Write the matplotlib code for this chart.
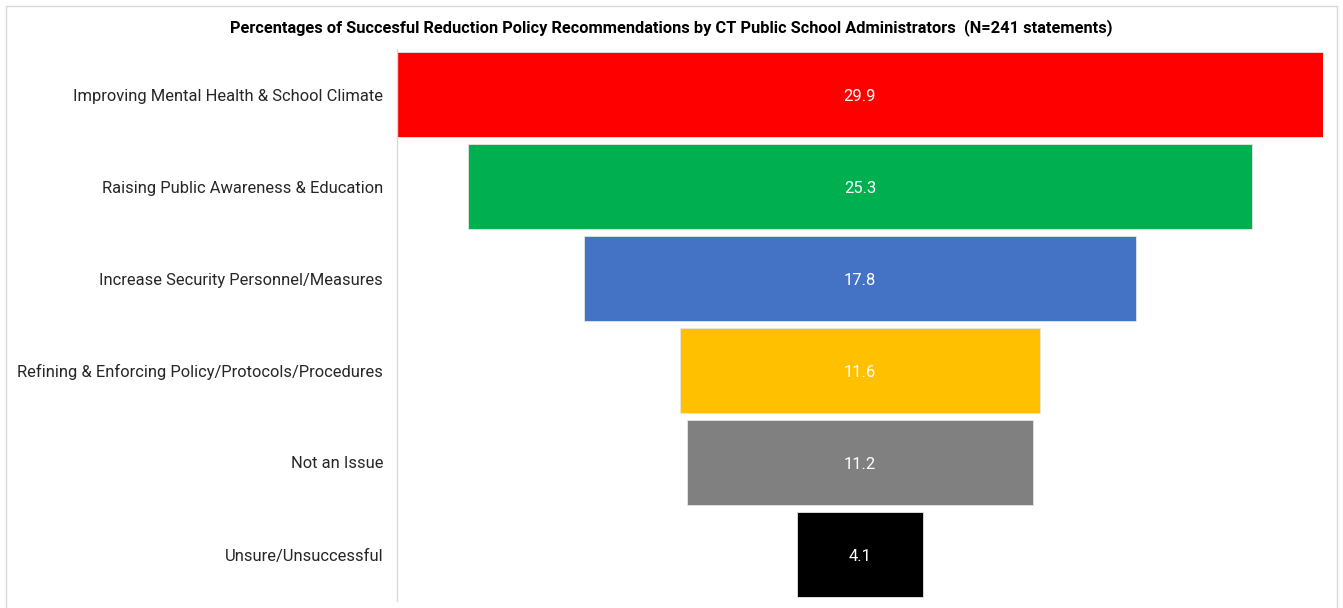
import matplotlib
matplotlib.use("Agg")
import matplotlib.pyplot as plt
from matplotlib.patches import Rectangle

categories = [
    "Improving Mental Health & School Climate",
    "Raising Public Awareness & Education",
    "Increase Security Personnel/Measures",
    "Refining & Enforcing Policy/Protocols/Procedures",
    "Not an Issue",
    "Unsure/Unsuccessful",
]
values = [29.9, 25.3, 17.8, 11.6, 11.2, 4.1]
colors = ["#FF0000", "#00B050", "#4472C4", "#FFC000", "#808080", "#000000"]
title = ("Percentages of Succesful Reduction Policy Recommendations by CT Public "
         "School Administrators  (N=241 statements)")

plt.rcParams["font.family"] = ["Roboto", "DejaVu Sans"]

W, H = 1343, 608
fig = plt.figure(figsize=(W / 100, H / 100), dpi=100)
fig.patch.set_facecolor("white")

# chart border
fig.patches.append(Rectangle((6 / W, -0.01), (1337 - 6) / W, (H - 6) / H + 0.01,
                             transform=fig.transFigure, fill=False,
                             edgecolor="#D9D9D9", linewidth=1.0))

ax = fig.add_axes([397 / W, (H - 600.5) / H, (1323 - 397) / W, (600.5 - 48.5) / H])

half = max(values) / 2
n = len(values)
ypos = list(range(n))
lefts = [-v / 2 for v in values]
ax.barh(ypos, values, left=lefts, height=0.924, color=colors,
        edgecolor="#E6E6E6", linewidth=0.6)

for y, v in zip(ypos, values):
    ax.text(0, y + 0.02, f"{v:.1f}", ha="center", va="center", color="white",
            fontsize=12)

ax.set_xlim(-half, half)
ax.set_ylim(n - 0.5, -0.5)
ax.set_yticks(ypos)
ax.set_yticklabels(categories, fontsize=11.9, color="#262626")
ax.tick_params(axis="y", length=0, pad=10)
ax.set_xticks([])
for s in ["top", "right", "bottom"]:
    ax.spines[s].set_visible(False)
ax.spines["left"].set_color("#D9D9D9")
ax.spines["left"].set_linewidth(1.0)

fig.text(671 / W, 1 - 28 / H, title, ha="center", va="center",
         fontsize=11.75, fontweight="bold", color="black")

fig.savefig("out.png", dpi=100, facecolor="white")
